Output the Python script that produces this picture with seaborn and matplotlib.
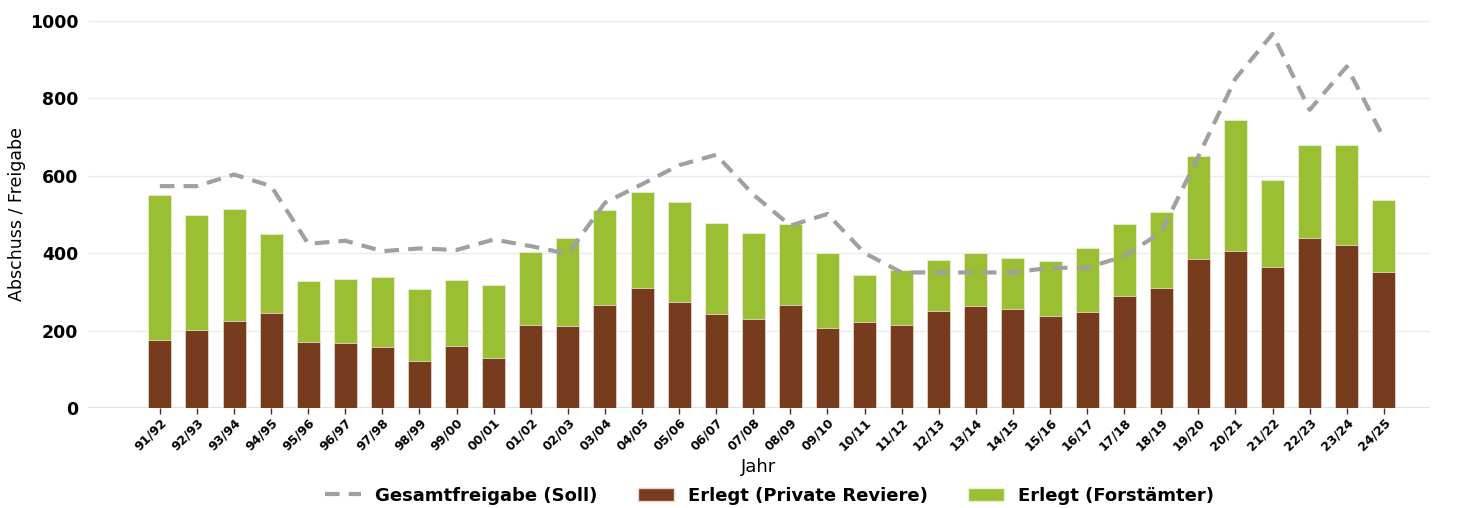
import matplotlib
matplotlib.use("Agg")
import matplotlib.pyplot as plt
import seaborn as sns
import numpy as np
import pandas as pd
from matplotlib.lines import Line2D
from matplotlib.patches import Patch

# Jagdjahre
jahre = ["91/92", "92/93", "93/94", "94/95", "95/96", "96/97", "97/98", "98/99",
         "99/00", "00/01", "01/02", "02/03", "03/04", "04/05", "05/06", "06/07",
         "07/08", "08/09", "09/10", "10/11", "11/12", "12/13", "13/14", "14/15",
         "15/16", "16/17", "17/18", "18/19", "19/20", "20/21", "21/22", "22/23",
         "23/24", "24/25"]

# Erlegt in privaten Revieren
privat = [176, 201, 224, 246, 170, 168, 158, 122, 160, 129, 213, 211, 267, 310,
          274, 242, 230, 265, 206, 222, 213, 251, 263, 256, 237, 249, 288, 309,
          385, 405, 364, 440, 422, 350]

# Erlegt gesamt (Private + Forstaemter)
gesamt = [551, 499, 515, 450, 329, 334, 338, 307, 331, 318, 404, 438, 512, 559,
          533, 479, 452, 476, 399, 344, 357, 381, 400, 388, 379, 413, 474, 506,
          651, 743, 590, 678, 680, 538]

# Gesamtfreigabe (Soll)
soll = [573, 573, 603, 573, 424, 432, 405, 412, 408, 435, 418, 398, 530, 578,
        627, 654, 551, 471, 501, 400, 350, 350, 350, 350, 362, 362, 392, 454,
        650, 851, 966, 770, 882, 697]

BROWN = "#773b1d"
GREEN = "#9abf32"
GREY = "#a0a0a0"

df = pd.DataFrame({"Jahr": jahre, "privat": privat, "gesamt": gesamt, "soll": soll})

sns.set_theme(style="whitegrid")
plt.rcParams["font.family"] = ["DejaVu Sans"]
plt.rcParams["text.color"] = "black"
plt.rcParams["axes.labelcolor"] = "black"
plt.rcParams["xtick.color"] = "black"
plt.rcParams["ytick.color"] = "black"

fig, ax = plt.subplots(figsize=(14.65, 5.08), dpi=100)
fig.subplots_adjust(left=0.06, right=0.976, top=0.959, bottom=0.197)

# stacked look: total bar in green, private part drawn over it in brown
sns.barplot(data=df, x="Jahr", y="gesamt", color=GREEN, width=0.62,
            edgecolor="#e8efd6", linewidth=0.6, saturation=1, ax=ax, zorder=2)
sns.barplot(data=df, x="Jahr", y="privat", color=BROWN, width=0.62,
            edgecolor="#e6d6cc", linewidth=0.6, saturation=1, ax=ax, zorder=3)
sns.lineplot(x=np.arange(len(jahre)), y=df["soll"], color=GREY, linewidth=3,
             linestyle=(0, (3.5, 2.2)), ax=ax, zorder=4)

ax.set_ylim(0, 1000)
ax.set_xlim(-1.94, len(jahre) - 1 + 1.24)
ax.set_yticks([0, 200, 400, 600, 800, 1000])
ax.grid(axis="y", color="#ebebeb", linewidth=1)
ax.grid(axis="x", visible=False)
for s in ax.spines.values():
    s.set_visible(False)
ax.axhline(0, color="#dcdcdc", linewidth=1.2, zorder=1)

ax.tick_params(axis="x", bottom=True, length=4, width=1, color="#333333", pad=2)
ax.tick_params(axis="y", left=False, pad=1)
plt.setp(ax.get_xticklabels(), rotation=45, ha="right", rotation_mode="anchor",
         fontsize=9, fontweight="bold")
plt.setp(ax.get_yticklabels(), fontsize=12.5, fontweight="bold")

ax.set_xlabel("Jahr", fontsize=13, labelpad=3)
ax.set_ylabel("Abschuss / Freigabe", fontsize=12.5)
ax.yaxis.set_label_coords(-0.046, 0.5)

handles = [
    Line2D([0], [0], color=GREY, linewidth=3, linestyle=(0, (3.5, 2.2))),
    Patch(facecolor=BROWN, edgecolor="#e6d6cc"),
    Patch(facecolor=GREEN, edgecolor="#e8efd6"),
]
labels = ["Gesamtfreigabe (Soll)", "Erlegt (Private Reviere)", "Erlegt (Forstämter)"]
ax.legend(handles, labels, loc="center", bbox_to_anchor=(0.508, -0.227), ncol=3,
          frameon=False, prop={"weight": "bold", "size": 13},
          handlelength=2.0, columnspacing=2.2)

plt.savefig("out.png", dpi=100)
plt.close(fig)
